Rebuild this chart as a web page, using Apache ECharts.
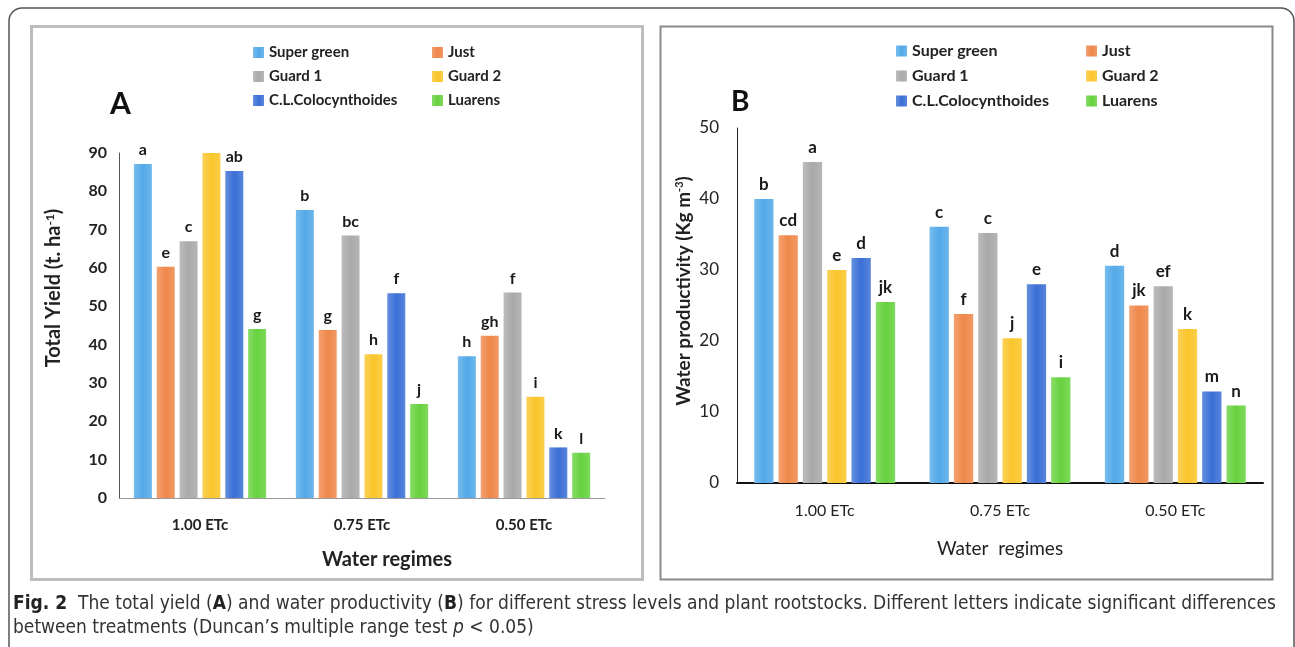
<!DOCTYPE html>
<html>
<head>
<meta charset="utf-8">
<script src="https://cdn.jsdelivr.net/npm/echarts@6/dist/echarts.min.js"></script>
<style>
html,body{margin:0;padding:0;background:#fff;}
#c{width:1295px;height:647px;}
</style>
</head>
<body>
<div id="c"></div>
<script>
// ---------- data ----------
const categories = ['1.00 ETc', '0.75 ETc', '0.50 ETc'];
const rootstocks = ['Super green', 'Just', 'Guard 1', 'Guard 2', 'C.L.Colocynthoides', 'Luarens'];
const yTicksA = [0, 10, 20, 30, 40, 50, 60, 70, 80, 90];
const yTicksB = [0, 10, 20, 30, 40, 50];

// Panel A: total yield (t ha-1)
const yieldSuperGreen = [87.1, 75.1, 37.0];
const yieldJust       = [60.3, 43.8, 42.3];
const yieldGuard1     = [67.0, 68.5, 53.6];
const yieldGuard2     = [90.0, 37.5, 26.4];
const yieldCL         = [85.3, 53.4, 13.2];
const yieldLuarens    = [44.1, 24.5, 11.8];
const yieldLetSuperGreen = ['a', 'b', 'h'];
const yieldLetJust       = ['e', 'g', 'gh'];
const yieldLetGuard1     = ['c', 'bc', 'f'];
const yieldLetGuard2     = ['', 'h', 'i'];
const yieldLetCL         = ['ab', 'f', 'k'];
const yieldLetLuarens    = ['g', 'j', 'l'];

// Panel B: water productivity (Kg m-3)
const wpSuperGreen = [40.0, 36.1, 30.6];
const wpJust       = [34.9, 23.8, 25.0];
const wpGuard1     = [45.2, 35.2, 27.7];
const wpGuard2     = [30.0, 20.4, 21.7];
const wpCL         = [31.7, 28.0, 12.9];
const wpLuarens    = [25.5, 14.9, 10.9];
const wpLetSuperGreen = ['b', 'c', 'd'];
const wpLetJust       = ['cd', 'f', 'jk'];
const wpLetGuard1     = ['a', 'c', 'ef'];
const wpLetGuard2     = ['e', 'j', 'k'];
const wpLetCL         = ['d', 'e', 'm'];
const wpLetLuarens    = ['jk', 'i', 'n'];

const colors = ['#52a9e8', '#ef874a', '#a9a9a9', '#fac52a', '#3a6fd6', '#66d23e'];

// ---------- chart ----------
const FONT = 'Lato, "Noto Sans", sans-serif';
const CAP = '"Liberation Sans Narrow", "DejaVu Sans Condensed", sans-serif';
const chart = echarts.init(document.getElementById('c'), null, {renderer: 'canvas'});

function lighten(hex, amt) {
  const n = parseInt(hex.slice(1), 16);
  let r = (n >> 16) & 255, g = (n >> 8) & 255, b = n & 255;
  r = Math.round(r + (255 - r) * amt); g = Math.round(g + (255 - g) * amt); b = Math.round(b + (255 - b) * amt);
  return 'rgb(' + r + ',' + g + ',' + b + ')';
}
function barColor(c) {
  return new echarts.graphic.LinearGradient(0, 0, 1, 0, [
    {offset: 0, color: lighten(c, 0.22)},
    {offset: 0.5, color: c},
    {offset: 1, color: lighten(c, 0.15)}
  ]);
}

const yieldData = [yieldSuperGreen, yieldJust, yieldGuard1, yieldGuard2, yieldCL, yieldLuarens];
const yieldLets = [yieldLetSuperGreen, yieldLetJust, yieldLetGuard1, yieldLetGuard2, yieldLetCL, yieldLetLuarens];
const wpData = [wpSuperGreen, wpJust, wpGuard1, wpGuard2, wpCL, wpLuarens];
const wpLets = [wpLetSuperGreen, wpLetJust, wpLetGuard1, wpLetGuard2, wpLetCL, wpLetLuarens];

const series = [];
rootstocks.forEach((name, i) => {
  series.push({
    type: 'bar', name: name, xAxisIndex: 0, yAxisIndex: 0,
    data: yieldData[i], barWidth: 18, barGap: '27%',
    itemStyle: {color: barColor(colors[i])},
    label: {show: true, position: 'top', distance: 6, color: '#1a1a1a',
      fontFamily: FONT, fontWeight: 'bold', fontSize: 16,
      formatter: p => yieldLets[i][p.dataIndex]},
    emphasis: {disabled: true}, animation: false
  });
});
rootstocks.forEach((name, i) => {
  series.push({
    type: 'bar', name: name, xAxisIndex: 1, yAxisIndex: 1,
    data: wpData[i], barWidth: 19.3, barGap: '26%',
    itemStyle: {color: barColor(colors[i])},
    label: {show: true, position: 'top', distance: 6, color: '#1a1a1a',
      fontFamily: FONT, fontWeight: 'bold', fontSize: 17,
      formatter: p => wpLets[i][p.dataIndex]},
    emphasis: {disabled: true}, animation: false
  });
});

function legendCol(names, left, top, size) {
  return {
    data: names, orient: 'vertical', left: left, top: top,
    itemWidth: 11, itemHeight: 11, itemGap: 9, icon: 'rect',
    selectedMode: false,
    textStyle: {fontFamily: FONT, fontSize: size, fontWeight: 'bold', color: '#222'}
  };
}

const option = {
  backgroundColor: '#fff',
  animation: false,
  color: colors,
  legend: [
    legendCol(['Super green', 'Guard 1', 'C.L.Colocynthoides'], 248, 40, 15),
    legendCol(['Just', 'Guard 2', 'Luarens'], 427, 40, 15),
    legendCol(['Super green', 'Guard 1', 'C.L.Colocynthoides'], 891, 38, 16),
    legendCol(['Just', 'Guard 2', 'Luarens'], 1081, 38, 16)
  ],
  grid: [
    {left: 119, top: 153, width: 486, height: 345},
    {left: 737, top: 128, width: 526, height: 355}
  ],
  xAxis: [
    {type: 'category', gridIndex: 0, data: categories, boundaryGap: true,
      axisLine: {lineStyle: {color: '#999', width: 1}}, axisTick: {show: false},
      axisLabel: {margin: 20, color: '#222', fontFamily: FONT, fontWeight: 'bold', fontSize: 15}},
    {type: 'category', gridIndex: 1, data: categories, boundaryGap: true,
      axisLine: {lineStyle: {color: '#111', width: 2}}, axisTick: {show: false},
      axisLabel: {margin: 20, color: '#222', fontFamily: FONT, fontWeight: 'normal', fontSize: 16}}
  ],
  yAxis: [
    {type: 'value', gridIndex: 0, min: yTicksA[0], max: yTicksA[yTicksA.length - 1], interval: 10,
      axisLine: {show: true, lineStyle: {color: '#555', width: 1}}, axisTick: {show: false},
      splitLine: {show: false},
      axisLabel: {margin: 12, color: '#222', fontFamily: FONT, fontWeight: 'bold', fontSize: 16}},
    {type: 'value', gridIndex: 1, min: yTicksB[0], max: yTicksB[yTicksB.length - 1], interval: 10,
      axisLine: {show: true, lineStyle: {color: '#222', width: 1}}, axisTick: {show: false},
      splitLine: {show: false},
      axisLabel: {margin: 18, color: '#222', fontFamily: FONT, fontWeight: 'normal', fontSize: 17}}
  ],
  series: series,
  graphic: [
    {type: 'rect', silent: true, z: -1, shape: {x: 9, y: 8, width: 1285, height: 660, r: 13},
      style: {fill: 'none', stroke: '#555', lineWidth: 1.5}},
    {type: 'rect', silent: true, z: -1, shape: {x: 31.5, y: 26.5, width: 611, height: 553},
      style: {fill: 'none', stroke: '#bdbdbd', lineWidth: 3}},
    {type: 'rect', silent: true, z: -1, shape: {x: 660.5, y: 26.5, width: 612, height: 553},
      style: {fill: 'none', stroke: '#8a8a8a', lineWidth: 2}},
    {type: 'text', silent: true, x: 110, y: 104,
      style: {text: 'A', fontFamily: FONT, fontWeight: 'bold', fontSize: 30, fill: '#111', verticalAlign: 'middle'}},
    {type: 'text', silent: true, x: 731, y: 102,
      style: {text: 'B', fontFamily: FONT, fontWeight: 'bold', fontSize: 28, fill: '#111', verticalAlign: 'middle'}},
    {type: 'text', silent: true, x: 54, y: 288, rotation: Math.PI / 2,
      style: {text: '{t|Total Yield (t. ha}{s|-1}{t|)}', align: 'center', verticalAlign: 'middle',
        rich: {t: {fontFamily: FONT, fontWeight: 'bold', fontSize: 20, fill: '#222'},
               s: {fontFamily: FONT, fontWeight: 'bold', fontSize: 12, fill: '#222', verticalAlign: 'top', lineHeight: 20}}}},
    {type: 'text', silent: true, x: 684, y: 291, rotation: Math.PI / 2,
      style: {text: '{t|Water productivity (Kg m}{s|-3}{t|)}', align: 'center', verticalAlign: 'middle',
        rich: {t: {fontFamily: FONT, fontWeight: 'bold', fontSize: 19, fill: '#222'},
               s: {fontFamily: FONT, fontWeight: 'bold', fontSize: 11, fill: '#222', verticalAlign: 'top', lineHeight: 20}}}},
    {type: 'text', silent: true, x: 387, y: 560,
      style: {text: 'Water regimes', fontFamily: FONT, fontWeight: 'bold', fontSize: 20, fill: '#222', align: 'center', verticalAlign: 'middle'}},
    {type: 'text', silent: true, x: 1000, y: 549,
      style: {text: 'Water  regimes', fontFamily: FONT, fontWeight: 'normal', fontSize: 19, fill: '#222', align: 'center', verticalAlign: 'middle'}},
    {type: 'text', silent: true, x: 13, y: 604,
      style: {text: '{b|Fig. 2}{n|  The total yield (}{b|A}{n|) and water productivity (}{b|B}{n|) for different stress levels and plant rootstocks. Different letters indicate significant differences}',
        verticalAlign: 'middle',
        rich: {n: {fontFamily: CAP, fontSize: 19, fill: '#333'},
               b: {fontFamily: CAP, fontSize: 19, fontWeight: 'bold', fill: '#222'}}}},
    {type: 'text', silent: true, x: 13, y: 628,
      style: {text: '{n|between treatments (Duncan\u2019s multiple range test }{i|p}{n| < 0.05)}',
        verticalAlign: 'middle',
        rich: {n: {fontFamily: CAP, fontSize: 19, fill: '#333'},
               i: {fontFamily: CAP, fontSize: 19, fontStyle: 'italic', fill: '#333'}}}}
  ]
};
chart.setOption(option);
</script>
</body>
</html>
